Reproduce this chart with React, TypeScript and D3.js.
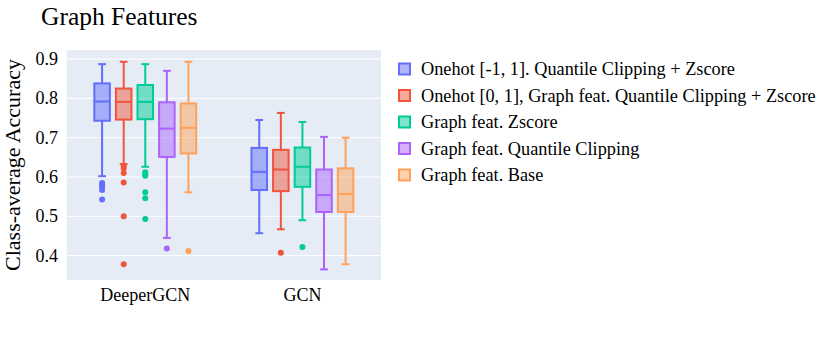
import React from "react";
import * as d3 from "d3";

const models = ["DeeperGCN", "GCN"];
const seriesNames = [
  "Onehot [-1, 1]. Quantile Clipping + Zscore",
  "Onehot [0, 1], Graph feat. Quantile Clipping + Zscore",
  "Graph feat. Zscore",
  "Graph feat. Quantile Clipping",
  "Graph feat. Base",
];
const colors = ["#636efa", "#EF553B", "#00cc96", "#ab63fa", "#FFA15A"];

// [lower whisker, q1, median, q3, upper whisker] per model
const onehotNegStats = [
  [0.602, 0.743, 0.792, 0.838, 0.887],
  [0.457, 0.567, 0.613, 0.674, 0.745],
];
const onehotPosStats = [
  [0.633, 0.746, 0.791, 0.825, 0.893],
  [0.467, 0.564, 0.619, 0.669, 0.763],
];
const zscoreStats = [
  [0.626, 0.747, 0.791, 0.834, 0.887],
  [0.49, 0.575, 0.626, 0.675, 0.74],
];
const clippingStats = [
  [0.445, 0.651, 0.723, 0.79, 0.87],
  [0.365, 0.511, 0.554, 0.619, 0.702],
];
const baseStats = [
  [0.561, 0.66, 0.725, 0.787, 0.893],
  [0.378, 0.511, 0.557, 0.622, 0.7],
];

const onehotNegOutliers = [[0.585, 0.581, 0.575, 0.567, 0.543], []];
const onehotPosOutliers = [[0.628, 0.622, 0.61, 0.586, 0.5, 0.378], [0.407]];
const zscoreOutliers = [[0.612, 0.607, 0.603, 0.561, 0.546, 0.493], [0.422]];
const clippingOutliers = [[0.418], []];
const baseOutliers = [[0.412], []];

const allStats = [onehotNegStats, onehotPosStats, zscoreStats, clippingStats, baseStats];
const allOutliers = [onehotNegOutliers, onehotPosOutliers, zscoreOutliers, clippingOutliers, baseOutliers];

const yTicks = [0.4, 0.5, 0.6, 0.7, 0.8, 0.9];

const W = 830;
const H = 346;
const plot = { left: 66.7, right: 381, top: 50, bottom: 280 };
const font = "'Liberation Serif', 'Times New Roman', serif";
const ink = "#000";

export default function App() {
  const x = d3.scaleBand().domain(models).range([plot.left, plot.right]);
  const inner = d3
    .scaleBand()
    .domain(seriesNames)
    .range([0, x.bandwidth()])
    .paddingInner(0)
    .paddingOuter(1.14);
  const y = d3.scaleLinear().domain([0.338, 0.923]).range([plot.bottom, plot.top]);
  const boxW = inner.bandwidth() * 0.72;

  return (
    <div style={{ position: "absolute", left: 0, top: 0 }}>
      <svg width={W} height={H} style={{ display: "block", fontFamily: font }}>
        <rect x={0} y={0} width={W} height={H} fill="#fff" />
        <rect
          x={plot.left}
          y={plot.top}
          width={plot.right - plot.left}
          height={plot.bottom - plot.top}
          fill="#E5ECF6"
        />
        {yTicks.map((t) => (
          <g key={t}>
            <line x1={plot.left} x2={plot.right} y1={y(t)} y2={y(t)} stroke="#fff" strokeWidth={1} />
            <text x={58} y={y(t)} dy="0.33em" textAnchor="end" fontSize={18} fill={ink}>
              {t.toFixed(1)}
            </text>
          </g>
        ))}
        {models.map((m) => (
          <text
            key={m}
            x={(x(m) as number) + x.bandwidth() / 2}
            y={301}
            textAnchor="middle"
            fontSize={18}
            fill={ink}
          >
            {m}
          </text>
        ))}
        <text
          transform={`translate(20,${(plot.top + plot.bottom) / 2}) rotate(-90)`}
          textAnchor="middle"
          fontSize={22}
          fill={ink}
        >
          Class-average Accuracy
        </text>
        <text x={41} y={25} fontSize={25.5} fill={ink}>
          Graph Features
        </text>

        {seriesNames.map((s, si) =>
          models.map((m, mi) => {
            const [lo, q1, med, q3, hi] = allStats[si][mi];
            const cx = (x(m) as number) + (inner(s) as number) + inner.bandwidth() / 2;
            const c = colors[si];
            const capW = boxW / 2;
            return (
              <g key={s + m}>
                <line x1={cx} x2={cx} y1={y(hi)} y2={y(q3)} stroke={c} strokeWidth={2} />
                <line x1={cx} x2={cx} y1={y(q1)} y2={y(lo)} stroke={c} strokeWidth={2} />
                <line x1={cx - capW / 2} x2={cx + capW / 2} y1={y(hi)} y2={y(hi)} stroke={c} strokeWidth={2} />
                <line x1={cx - capW / 2} x2={cx + capW / 2} y1={y(lo)} y2={y(lo)} stroke={c} strokeWidth={2} />
                <rect
                  x={cx - boxW / 2}
                  y={y(q3)}
                  width={boxW}
                  height={y(q1) - y(q3)}
                  fill={c}
                  fillOpacity={0.5}
                  stroke={c}
                  strokeWidth={2}
                />
                <line x1={cx - boxW / 2} x2={cx + boxW / 2} y1={y(med)} y2={y(med)} stroke={c} strokeWidth={2} />
                {allOutliers[si][mi].map((o, oi) => (
                  <circle key={oi} cx={cx} cy={y(o)} r={3} fill={c} />
                ))}
              </g>
            );
          })
        )}

        {seriesNames.map((s, i) => {
          const ly = 69 + i * 26.5;
          return (
            <g key={s}>
              <rect
                x={399}
                y={ly - 5.5}
                width={11}
                height={11}
                fill={colors[i]}
                fillOpacity={0.5}
                stroke={colors[i]}
                strokeWidth={2}
              />
              <text x={421} y={ly} dy="0.33em" fontSize={18.3} fill={ink}>
                {s}
              </text>
            </g>
          );
        })}
      </svg>
    </div>
  );
}
